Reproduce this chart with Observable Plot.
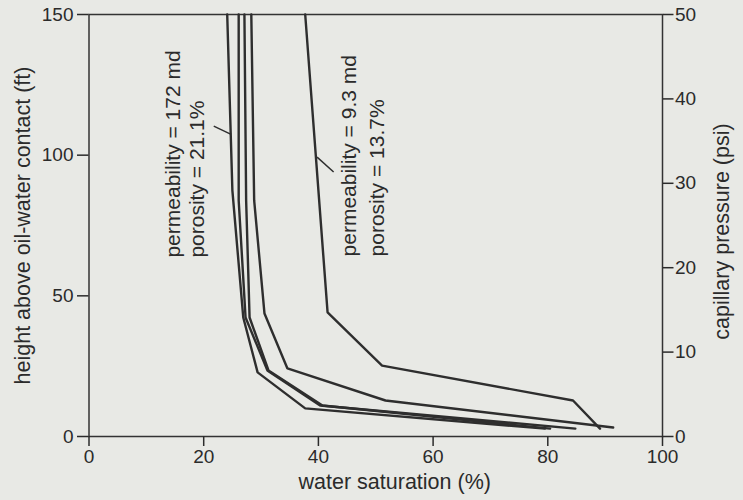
<!DOCTYPE html>
<html><head><meta charset="utf-8">
<script src="https://cdn.jsdelivr.net/npm/d3@7"></script>
<script src="https://cdn.jsdelivr.net/npm/@observablehq/plot@0.6"></script>
<style>
html,body{margin:0;padding:0;background:#e8e9e5;}
</style></head><body><div id="chart"></div>
<script>
// ---- data (water saturation %, height above oil-water contact ft) ----
const curveNames = ["A", "B", "C", "D", "E"];
const satA = [37.7, 41.6, 51.1, 84.4, 89.1];
const htA  = [150, 44.1, 25.2, 12.8, 2.8];
const satB = [28.3, 28.8, 30.6, 34.6, 51.7, 91.4];
const htB  = [150, 83.9, 43.7, 24.2, 12.8, 3.2];
const satC = [24.1, 25.0, 26.9, 29.4, 37.7, 79.5];
const htC  = [150, 87.5, 42.3, 22.8, 10.0, 2.8];
const satD = [26.1, 26.1, 27.3, 31.1, 40.3, 84.8];
const htD  = [150, 83.9, 42.3, 23.5, 11.0, 2.8];
const satE = [27.1, 27.4, 28.0, 31.3, 40.7, 80.4];
const htE  = [150, 83.9, 42.3, 23.5, 11.0, 2.8];

const xTicks = [0, 20, 40, 60, 80, 100];
const yTicks = [0, 50, 100, 150];
const psiTicks = [0, 10, 20, 30, 40, 50];
const ftPerPsi = 3;

const labelTexts = ["permeability = 172 md", "porosity = 21.1%", "permeability = 9.3 md", "porosity = 13.7%"];
const labelSat = [15.8, 20.0, 46.6, 51.5];
const labelHt  = [63.6, 63.6, 64, 64];
const leaderSat1 = [21.75, 39.77];
const leaderHt1  = [110.3, 99.3];
const leaderSat2 = [24.78, 42.66];
const leaderHt2  = [107.4, 94.0];

// ---- build tables ----
const sats = [satA, satB, satC, satD, satE];
const hts = [htA, htB, htC, htD, htE];
const rows = curveNames.flatMap((c, i) => sats[i].map((s, j) => ({curve: c, sw: s, h: hts[i][j]})));
const labels = labelTexts.map((t, i) => ({t, sw: labelSat[i], h: labelHt[i]}));
const leaders = leaderSat1.map((s, i) => ({x1: s, y1: leaderHt1[i], x2: leaderSat2[i], y2: leaderHt2[i]}));

const ink = "#2b2b2b";
const chart = Plot.plot({
  width: 743, height: 500,
  marginLeft: 88.5, marginRight: 81, marginTop: 14, marginBottom: 64,
  style: {background: "#e8e9e5", color: ink, fontFamily: "'Liberation Sans', Arial, sans-serif", fontSize: "19px"},
  x: {domain: [0, 100]},
  y: {domain: [0, 150]},
  marks: [
    Plot.frame({stroke: "#333", strokeWidth: 1.5}),
    Plot.axisX(xTicks, {tickSize: 10, tickPadding: 3, label: null, strokeWidth: 1.5, fontSize: 19}),
    Plot.axisY(yTicks, {tickSize: 11.5, tickPadding: 4, label: null, strokeWidth: 1.5, fontSize: 19}),
    Plot.axisY(psiTicks.map(p => p * ftPerPsi), {anchor: "right", tickFormat: d => d / ftPerPsi, tickSize: 10.5, tickPadding: 2, label: null, strokeWidth: 1.5, fontSize: 19}),
    Plot.line(rows, {x: "sw", y: "h", z: "curve", stroke: "#2e2e2e", strokeWidth: 2.4, strokeLinejoin: "miter"}),
    Plot.link(leaders, {x1: "x1", y1: "y1", x2: "x2", y2: "y2", stroke: "#2e2e2e", strokeWidth: 1.5}),
    Plot.text(labels, {x: "sw", y: "h", text: "t", rotate: -90, textAnchor: "start", lineAnchor: "bottom", fontSize: 21, fill: ink}),
    Plot.text(["height above oil-water contact (ft)"], {text: d => d, frameAnchor: "left", textAnchor: "middle", lineAnchor: "middle", rotate: -90, dx: -66, fontSize: 21.5, fill: ink}),
    Plot.text(["capillary pressure (psi)"], {text: d => d, frameAnchor: "right", textAnchor: "middle", lineAnchor: "middle", rotate: -90, dx: 60, dy: 6, fontSize: 21.5, fill: ink}),
    Plot.text(["water saturation (%)"], {text: d => d, frameAnchor: "bottom", textAnchor: "middle", lineAnchor: "middle", dy: 46, dx: 19, fontSize: 21.5, fill: ink})
  ]
});
document.getElementById("chart").appendChild(chart);
</script>
</body></html>
